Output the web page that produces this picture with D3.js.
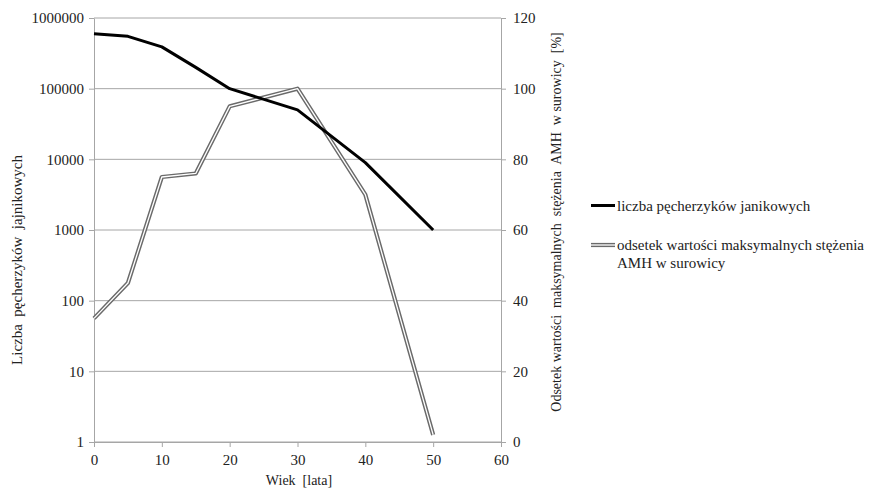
<!DOCTYPE html>
<html>
<head>
<meta charset="utf-8">
<script src="https://cdn.jsdelivr.net/npm/d3@7"></script>
<style>
  body { margin: 0; background: #fff; }
  text { font-family: "Liberation Serif", "Times New Roman", serif; fill: #222; }
</style>
</head>
<body>
<svg id="chart" width="871" height="490"></svg>
<script>
// data
const ages = [0, 5, 10, 15, 20, 30, 40, 50];
const follicles = [600000, 550000, 390000, 200000, 100000, 50000, 9000, 1000];
const amhPercent = [35, 45, 75, 76, 95, 100, 70, 2];
const xTicks = [0, 10, 20, 30, 40, 50, 60];
const leftTicks = [1, 10, 100, 1000, 10000, 100000, 1000000];
const rightTicks = [0, 20, 40, 60, 80, 100, 120];
const seriesNames = ['liczba pęcherzyków janikowych', 'odsetek wartości maksymalnych stężenia', 'AMH w surowicy'];

const svg = d3.select('#chart');

/**
 * SIZE DEFINITIONS
 */
const plotLeft = 94, plotRight = 501, plotTop = 18, plotBottom = 442;
const gridColor = '#a6a6a6';
const amhOuter = '#6a6a6a';

/**
 * SCALES
 */
const x = d3.scaleLinear().domain([0, 60]).range([plotLeft, plotRight]);
const yLog = d3.scaleLog().domain([1, 1000000]).range([plotBottom, plotTop]);
const yLin = d3.scaleLinear().domain([0, 120]).range([plotBottom, plotTop]);

/**
 * GRID
 */
svg.append('g')
  .selectAll('line')
  .data(leftTicks)
  .join('line')
  .attr('x1', plotLeft)
  .attr('x2', plotRight)
  .attr('y1', d => yLog(d))
  .attr('y2', d => yLog(d))
  .attr('stroke', gridColor)
  .attr('stroke-width', 1);

/**
 * AXES
 */
const styleAxis = g => {
  g.attr('font-family', '"Liberation Serif", serif').attr('font-size', 15);
  g.select('.domain').attr('stroke', gridColor);
  g.selectAll('.tick line').attr('stroke', gridColor);
  g.selectAll('.tick text').attr('fill', '#222');
};

svg.append('g')
  .attr('transform', `translate(0,${plotBottom})`)
  .call(d3.axisBottom(x).tickValues(xTicks).tickSize(5).tickSizeOuter(0).tickPadding(7))
  .call(styleAxis);

svg.append('g')
  .attr('transform', `translate(${plotLeft},0)`)
  .call(d3.axisLeft(yLog).tickValues(leftTicks).tickFormat(d3.format('d')).tickSize(5).tickSizeOuter(0).tickPadding(5))
  .call(styleAxis);

svg.append('g')
  .attr('transform', `translate(${plotRight},0)`)
  .call(d3.axisRight(yLin).tickValues(rightTicks).tickSize(5).tickSizeOuter(0).tickPadding(7))
  .call(styleAxis);

/**
 * AXIS TITLES
 */
svg.append('text')
  .attr('x', 299)
  .attr('y', 485)
  .attr('text-anchor', 'middle')
  .attr('font-size', 14)
  .attr('xml:space', 'preserve')
  .text('Wiek  [lata]');

svg.append('text')
  .attr('transform', 'translate(22,260) rotate(-90)')
  .attr('text-anchor', 'middle')
  .attr('font-size', 15)
  .attr('xml:space', 'preserve')
  .text('Liczba  pęcherzyków  jajnikowych');

svg.append('text')
  .attr('transform', 'translate(561,222) rotate(-90)')
  .attr('text-anchor', 'middle')
  .attr('font-size', 14)
  .attr('xml:space', 'preserve')
  .text('Odsetek wartości  maksymalnych  stężenia  AMH  w surowicy  [%]');

/**
 * LINES
 */
const follicleLine = d3.line()
  .x((d, i) => x(ages[i]))
  .y(d => yLog(d));

const amhLine = d3.line()
  .x((d, i) => x(ages[i]))
  .y(d => yLin(d));

svg.append('path')
  .attr('d', amhLine(amhPercent))
  .attr('fill', 'none')
  .attr('stroke', amhOuter)
  .attr('stroke-width', 4.2)
  .attr('stroke-linejoin', 'round');

svg.append('path')
  .attr('d', amhLine(amhPercent))
  .attr('fill', 'none')
  .attr('stroke', '#fff')
  .attr('stroke-width', 1.3)
  .attr('stroke-linejoin', 'round');

svg.append('path')
  .attr('d', follicleLine(follicles))
  .attr('fill', 'none')
  .attr('stroke', '#000')
  .attr('stroke-width', 3)
  .attr('stroke-linejoin', 'round');

/**
 * LEGEND
 */
const legend = svg.append('g').attr('transform', 'translate(591,0)');

legend.append('line')
  .attr('x1', 0).attr('x2', 24)
  .attr('y1', 205.5).attr('y2', 205.5)
  .attr('stroke', '#000').attr('stroke-width', 3);

legend.append('text')
  .attr('x', 26).attr('y', 211)
  .attr('font-size', 15)
  .text(seriesNames[0]);

legend.append('line')
  .attr('x1', 0).attr('x2', 24)
  .attr('y1', 245).attr('y2', 245)
  .attr('stroke', amhOuter).attr('stroke-width', 4.2);

legend.append('line')
  .attr('x1', 0).attr('x2', 24)
  .attr('y1', 245).attr('y2', 245)
  .attr('stroke', '#fff').attr('stroke-width', 1.3);

legend.append('text')
  .attr('x', 26).attr('y', 250)
  .attr('font-size', 15)
  .text(seriesNames[1]);

legend.append('text')
  .attr('x', 26).attr('y', 268)
  .attr('font-size', 15)
  .text(seriesNames[2]);
</script>
</body>
</html>
